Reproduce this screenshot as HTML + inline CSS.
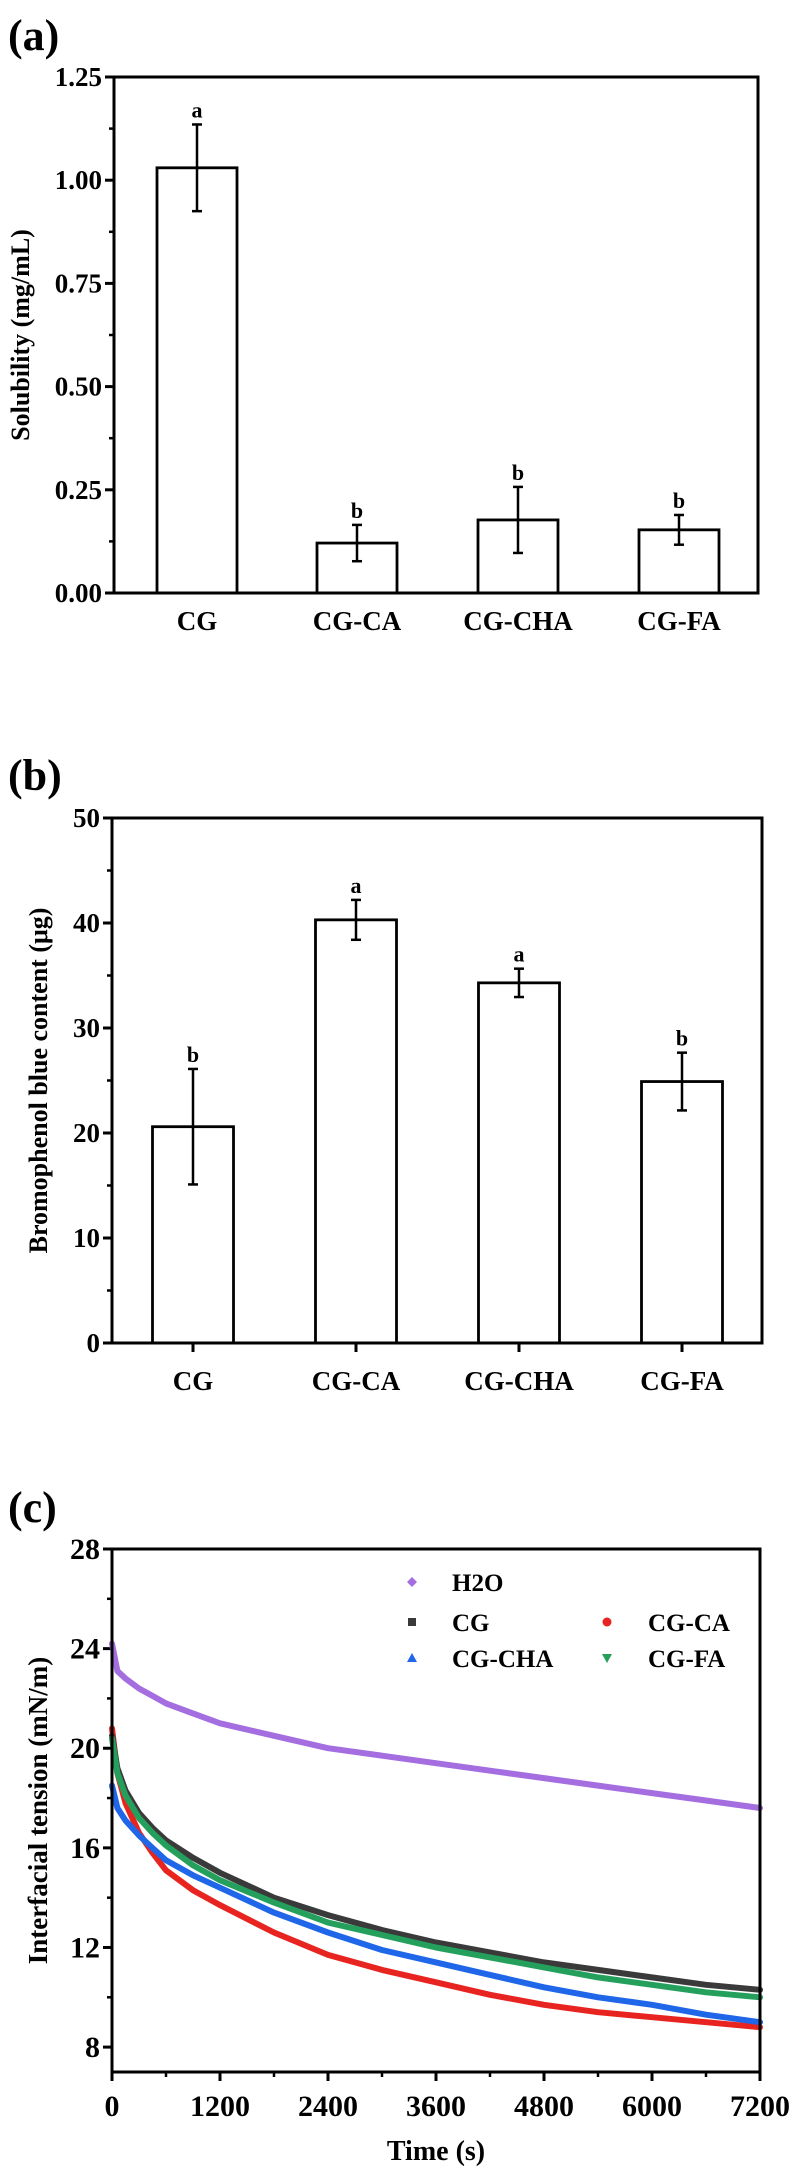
<!DOCTYPE html>
<html><head><meta charset="utf-8">
<style>
html,body{margin:0;padding:0;background:#fff;}
svg{display:block;font-family:"Liberation Serif",serif;font-weight:bold;}
</style></head>
<body>
<svg id="fig" width="798" height="2169" viewBox="0 0 798 2169" xmlns="http://www.w3.org/2000/svg">
<g id="pa"></g>
<g id="pb"></g>
<g id="pc"></g>
</svg>
<script>
// ---- Panel (a) data ----
const catsA = ["CG","CG-CA","CG-CHA","CG-FA"];
const valsA = [1.03,0.121,0.177,0.153];
const errsA = [0.105,0.044,0.08,0.036];
const letA = ["a","b","b","b"];
const ticksA = ["0.00","0.25","0.50","0.75","1.00","1.25"];
// ---- Panel (b) data ----
const catsB = ["CG","CG-CA","CG-CHA","CG-FA"];
const valsB = [20.6,40.3,34.3,24.9];
const errsB = [5.5,1.9,1.35,2.75];
const letB = ["b","a","a","b"];
const ticksB = ["0","10","20","30","40","50"];
// ---- Panel (c) data ----
const timesC = [0,60,150,300,450,600,900,1200,1800,2400,3000,3600,4200,4800,5400,6000,6600,7200];
const h2oC = [24.2,23.1,22.8,22.4,22.1,21.8,21.4,21.0,20.5,20.0,19.7,19.4,19.1,18.8,18.5,18.2,17.9,17.6];
const cgC  = [20.5,19.2,18.3,17.4,16.8,16.3,15.6,15.0,14.0,13.3,12.7,12.2,11.8,11.4,11.1,10.8,10.5,10.3];
const faC  = [20.4,19.0,18.1,17.2,16.6,16.1,15.3,14.7,13.8,13.0,12.5,12.0,11.6,11.2,10.8,10.5,10.2,10.0];
const chaC = [18.5,17.6,17.1,16.5,16.0,15.5,14.9,14.4,13.4,12.6,11.9,11.4,10.9,10.4,10.0,9.7,9.3,9.0];
const caC  = [20.8,19.0,17.8,16.6,15.8,15.1,14.3,13.7,12.6,11.7,11.1,10.6,10.1,9.7,9.4,9.2,9.0,8.8];
const xTicksC = ["0","1200","2400","3600","4800","6000","7200"];
const yTicksC = ["8","12","16","20","24","28"];

const NS="http://www.w3.org/2000/svg";
function mk(parent,tag,attrs,text){
  const e=document.createElementNS(NS,tag);
  for(const k in attrs) e.setAttribute(k,attrs[k]);
  if(text!==undefined) e.textContent=text;
  parent.appendChild(e); return e;
}

function barPanel(g,cfg,cats,vals,errs,lets,ticks,panelLabel,yTitle){
  const {L,R,T,B,ymax,centers,bw,titleX,labelY,fs}=cfg;
  const ys=v=>B-(v/ymax)*(B-T);
  let t=mk(g,'text',{x:8,y:cfg.labY,'font-size':44});
  t.textContent=panelLabel;
  
  
  // ticks
  ticks.forEach((lab,i)=>{
    const v=parseFloat(lab); const y=ys(v);
    const tk=mk(g,'line',{x1:L-9,x2:L,y1:y,y2:y,stroke:'#000','stroke-width':3});
    
    
    const tl=mk(g,'text',{x:L-12,y:y+9,'font-size':fs,'text-anchor':'end'},lab);
    
    
    if(i<ticks.length-1){
      const vm=(v+parseFloat(ticks[i+1]))/2; const ym=ys(vm);
      const mt=mk(g,'line',{x1:L-5,x2:L,y1:ym,y2:ym,stroke:'#000','stroke-width':2.5});
      
      
    }
  });
  const yt=mk(g,'text',{x:titleX,y:(T+B)/2,'font-size':26,'text-anchor':'middle',transform:`rotate(-90 ${titleX} ${(T+B)/2})`,dy:9},yTitle);
  
  
  cats.forEach((c,i)=>{
    const cx=centers[i]; const top=ys(vals[i]);
    const bar=mk(g,'rect',{x:cx-bw/2,y:top,width:bw,height:B-top,fill:'#fff',stroke:'#000','stroke-width':2.8});
    
    
    const eh=ys(vals[i]+errs[i]), el=ys(vals[i]-errs[i]);
    const eg=mk(g,'g',{stroke:'#000','stroke-width':2.5});
    
    
    mk(eg,'line',{x1:cx,x2:cx,y1:eh,y2:el});
    mk(eg,'line',{x1:cx-5,x2:cx+5,y1:eh,y2:eh});
    mk(eg,'line',{x1:cx-5,x2:cx+5,y1:el,y2:el});
    const lt=mk(g,'text',{x:cx,y:eh-7,'font-size':22,'text-anchor':'middle'},lets[i]);
    
    
    const xl=mk(g,'text',{x:cx,y:labelY,'font-size':fs,'text-anchor':'middle'},c);
    
    
    if(cfg.xticks){
      const xt=mk(g,'line',{x1:cx,x2:cx,y1:B,y2:B+9,stroke:'#000','stroke-width':3});
      
      
    }
  });
  const fr=mk(g,'rect',{x:L,y:T,width:R-L,height:B-T,fill:'none',stroke:'#000','stroke-width':3});
  
  
}

barPanel(document.getElementById('pa'),
  {L:114,R:758,T:77,B:593,ymax:1.25,centers:[197,357,518,679],bw:80,titleX:20,labelY:630,fs:27,labY:50},
  catsA,valsA,errsA,letA,ticksA,'(a)','Solubility (mg/mL)');
barPanel(document.getElementById('pb'),
  {L:112,R:762,T:818,B:1343,ymax:50,centers:[193,356,519,682],bw:81,titleX:38,labelY:1390,fs:27,labY:790,xticks:true},
  catsB,valsB,errsB,letB,ticksB,'(b)','Bromophenol blue content (μg)');

// ---- Panel c ----
(function(){
  const g=document.getElementById('pc');
  const L=112,R=760,T=1549,B=2072,ymin=7,ymax=28,xmax=7200;
  const xs=t=>L+(t/xmax)*(R-L);
  const ys=v=>B-((v-ymin)/(ymax-ymin))*(B-T);
  let t=mk(g,'text',{x:8,y:1522,'font-size':44},'(c)');
  
  
  yTicksC.forEach((lab,i)=>{
    const v=parseFloat(lab),y=ys(v);
    const tk=mk(g,'line',{x1:L-9,x2:L,y1:y,y2:y,stroke:'#000','stroke-width':3});
    
    
    const tl=mk(g,'text',{x:L-12,y:y+10,'font-size':30,'text-anchor':'end'},lab);
    
    
    if(i<yTicksC.length-1){
      const ym=ys(v+2);
      const mt=mk(g,'line',{x1:L-5,x2:L,y1:ym,y2:ym,stroke:'#000','stroke-width':2.5});
      
      
    }
  });
  xTicksC.forEach((lab,i)=>{
    const v=parseFloat(lab),x=xs(v);
    const tk=mk(g,'line',{x1:x,x2:x,y1:B,y2:B+9,stroke:'#000','stroke-width':3});
    
    
    const tl=mk(g,'text',{x:x,y:2116,'font-size':30,'text-anchor':'middle'},lab);
    
    
    if(i<xTicksC.length-1){
      const xm=xs(v+600);
      const mt=mk(g,'line',{x1:xm,x2:xm,y1:B,y2:B+5,stroke:'#000','stroke-width':2.5});
      
      
    }
  });
  const xt=mk(g,'text',{x:(L+R)/2,y:2160,'font-size':28,'text-anchor':'middle'},'Time (s)');
  
  
  const yc=(T+B)/2;
  const yt=mk(g,'text',{x:38,y:yc,dy:9,'font-size':27,'text-anchor':'middle',transform:`rotate(-90 38 ${yc})`},'Interfacial tension (mN/m)');
  
  
  const series=[['h2o',h2oC,'#a46ee0'],['cg',cgC,'#3a3a3a'],['cg-fa',faC,'#24a05c'],['cg-cha',chaC,'#1f66e8'],['cg-ca',caC,'#e82420']];
  const order=[0,1,2,3,4];
  // draw so stacking resembles reference: red bottom-most drawn first? draw CA, CHA, FA, CG, H2O
  [4,3,1,2,0].forEach(k=>{
    const [nm,arr,col]=series[k];
    const pts=timesC.map((tt,i)=>xs(tt).toFixed(1)+','+ys(arr[i]).toFixed(1)).join(' ');
    const pl=mk(g,'polyline',{points:pts,fill:'none',stroke:col,'stroke-width':6,'stroke-linejoin':'round','stroke-linecap':'round'});
    
    
  });
  // legend
  const lg=mk(g,'g',{'font-size':25});
  
  
  const ent=[['H2O',412,1582,'#a46ee0','dia',452],['CG',412,1622,'#3a3a3a','sq',452],['CG-CA',607,1622,'#e82420','circ',648],['CG-CHA',412,1658,'#1f66e8','tri',452],['CG-FA',607,1658,'#24a05c','itri',648]];
  ent.forEach(([lab,mx,my,col,sh,tx])=>{
    const eg=mk(lg,'g',{});
    
    
    if(sh==='dia') mk(eg,'polygon',{points:`${mx},${my-5} ${mx+5},${my} ${mx},${my+5} ${mx-5},${my}`,fill:col});
    if(sh==='sq') mk(eg,'rect',{x:mx-4,y:my-4,width:8,height:8,fill:col});
    if(sh==='circ') mk(eg,'circle',{cx:mx,cy:my,r:4.5,fill:col});
    if(sh==='tri') mk(eg,'polygon',{points:`${mx},${my-5} ${mx+5},${my+4} ${mx-5},${my+4}`,fill:col});
    if(sh==='itri') mk(eg,'polygon',{points:`${mx-5},${my-4} ${mx+5},${my-4} ${mx},${my+5}`,fill:col});
    mk(eg,'text',{x:tx,y:my+9},lab);
  });
  const fr=mk(g,'rect',{x:L,y:T,width:R-L,height:B-T,fill:'none',stroke:'#000','stroke-width':3});
  
  
})();
</script>
</body></html>
